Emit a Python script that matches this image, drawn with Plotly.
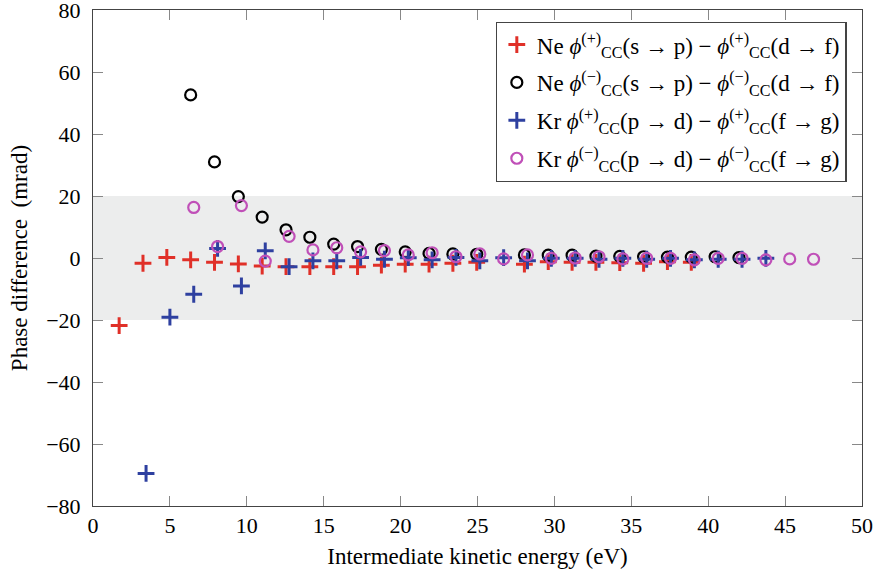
import plotly.graph_objects as go

# ---- data ----
ne_x_plus = [1.7, 3.25, 4.8, 6.35, 7.9, 9.45, 11.0, 12.55, 14.1, 15.65, 17.2, 18.75, 20.3,
             21.85, 23.4, 24.95, 28.05, 29.6, 31.15, 32.7, 34.25, 35.8, 37.35, 38.9]
ne_y_plus = [-21.8, -1.7, 0.2, -0.6, -1.4, -1.9, -2.6, -2.8, -2.8, -2.8, -2.8, -2.3, -2.0,
             -2.0, -1.7, -1.4, -2.0, -1.2, -1.4, -1.4, -1.5, -1.7, -1.2, -1.4]

ne_x_minus = [6.35, 7.9, 9.45, 11.0, 12.55, 14.1, 15.65, 17.2, 18.75, 20.3, 21.85, 23.4,
              24.95, 28.05, 29.6, 31.15, 32.7, 34.25, 35.8, 37.35, 38.9, 40.45, 42.0]
ne_y_minus = [52.6, 31.0, 19.8, 13.2, 9.1, 6.7, 4.5, 3.7, 2.8, 2.0, 1.5, 1.3,
              1.2, 1.0, 0.9, 0.9, 0.6, 0.5, 0.4, 0.3, 0.3, 0.4, 0.1]

kr_x_plus = [3.45, 5.0, 6.55, 8.1, 9.65, 11.2, 12.75, 14.3, 15.85, 17.4, 18.95, 20.5, 22.05,
             23.6, 25.15, 26.7, 28.25, 29.8, 31.35, 32.9, 34.45, 36.0, 37.55, 39.1, 40.65,
             42.2, 43.75]
kr_y_plus = [-69.5, -19.1, -11.7, 3.1, -9.0, 2.3, -2.8, -0.9, -0.9, 0.2, -0.4, 0.1, -0.6,
             0.2, -0.9, 0.1, -0.9, -0.1, -0.1, -0.4, -0.1, -0.4, -0.1, -0.6, -0.4,
             -0.4, -0.1]

kr_x_minus = [6.55, 8.1, 9.65, 11.2, 12.75, 14.3, 15.85, 17.4, 18.95, 20.5, 22.05, 23.6,
              25.15, 26.7, 28.25, 29.8, 31.35, 32.9, 34.45, 36.0, 37.55, 39.1, 40.65, 42.2,
              43.75, 45.3, 46.85]
kr_y_minus = [16.3, 3.7, 16.9, -1.0, 7.0, 2.6, 3.3, 2.0, 2.4, 1.0, 1.7, 0.4,
              1.3, -0.3, 1.0, -0.1, 0.0, 0.4, -0.3, -0.1, -0.1, -0.6, -0.1, -0.1,
              -0.6, -0.3, -0.4]

band = [-20, 20]

x_ticks = [0, 5, 10, 15, 20, 25, 30, 35, 40, 45, 50]
y_ticks = [-80, -60, -40, -20, 0, 20, 40, 60, 80]

names = [
    "Ne <i>ϕ</i><sup>(+)</sup><sub>CC</sub>(s → p) − <i>ϕ</i><sup>(+)</sup><sub>CC</sub>(d → f)",
    "Ne <i>ϕ</i><sup>(−)</sup><sub>CC</sub>(s → p) − <i>ϕ</i><sup>(−)</sup><sub>CC</sub>(d → f)",
    "Kr <i>ϕ</i><sup>(+)</sup><sub>CC</sub>(p → d) − <i>ϕ</i><sup>(+)</sup><sub>CC</sub>(f → g)",
    "Kr <i>ϕ</i><sup>(−)</sup><sub>CC</sub>(p → d) − <i>ϕ</i><sup>(−)</sup><sub>CC</sub>(f → g)",
]

RED = "rgb(224,48,40)"
BLUE = "rgb(46,64,160)"
PINK = "rgb(192,80,184)"
BLACK = "black"

FONT = "Liberation Serif"

fig = go.Figure()

fig.add_trace(go.Scatter(x=ne_x_plus, y=ne_y_plus, mode="markers", name=names[0], legendgroup="a",
                         marker=dict(symbol="cross-thin", size=12, line=dict(color=RED, width=3), color=RED)))
fig.add_trace(go.Scatter(x=ne_x_minus, y=ne_y_minus, mode="markers", name=names[1], legendgroup="b",
                         marker=dict(symbol="circle-open", size=11, line=dict(color=BLACK, width=2.2), color=BLACK)))
fig.add_trace(go.Scatter(x=kr_x_plus, y=kr_y_plus, mode="markers", name=names[2], legendgroup="c",
                         marker=dict(symbol="cross-thin", size=12, line=dict(color=BLUE, width=3), color=BLUE)))
fig.add_trace(go.Scatter(x=kr_x_minus, y=kr_y_minus, mode="markers", name=names[3], legendgroup="d",
                         marker=dict(symbol="circle-open", size=11, line=dict(color=PINK, width=2.2), color=PINK)))

fig.add_shape(type="rect", xref="paper", yref="y", x0=0, x1=1, y0=band[0], y1=band[1],
              fillcolor="rgb(236,237,237)", line=dict(width=0), layer="below")

axis_common = dict(
    showgrid=False, zeroline=False, showline=True, linecolor="#444", linewidth=1,
    mirror="allticks", ticks="inside", ticklen=10, tickcolor="#888", tickwidth=1,
    tickfont=dict(family=FONT, size=22, color="black"), ticklabeloverflow="allow",
)

fig.update_xaxes(range=[0, 50], tickvals=x_ticks, ticktext=[str(v) for v in x_ticks],
                 title=dict(text="Intermediate kinetic energy (eV)", font=dict(family=FONT, size=23, color="black"), standoff=10),
                 ticklabelstandoff=0, **axis_common)
fig.update_yaxes(range=[-80, 80], tickvals=y_ticks,
                 ticktext=[("−" + str(-v)) if v < 0 else str(v) for v in y_ticks],
                 title=dict(text="Phase difference  (mrad)", font=dict(family=FONT, size=23, color="black"), standoff=12),
                 ticklabelstandoff=7, **axis_common)

fig.update_layout(
    width=881, height=575,
    margin=dict(l=93, r=19, t=10, b=69, autoexpand=False),
    plot_bgcolor="white", paper_bgcolor="white",
    font=dict(family=FONT, color="black"),
    legend=dict(x=0.98, y=0.976, xanchor="right", yanchor="top",
                bgcolor="white", bordercolor="#444", borderwidth=1.2,
                font=dict(family=FONT, size=23, color="black"),
                itemwidth=30, tracegroupgap=5),
    showlegend=True,
)

fig.write_html("out.html", config={"displayModeBar": False},
               post_script="document.body.style.margin='0';document.body.style.overflow='hidden';")
